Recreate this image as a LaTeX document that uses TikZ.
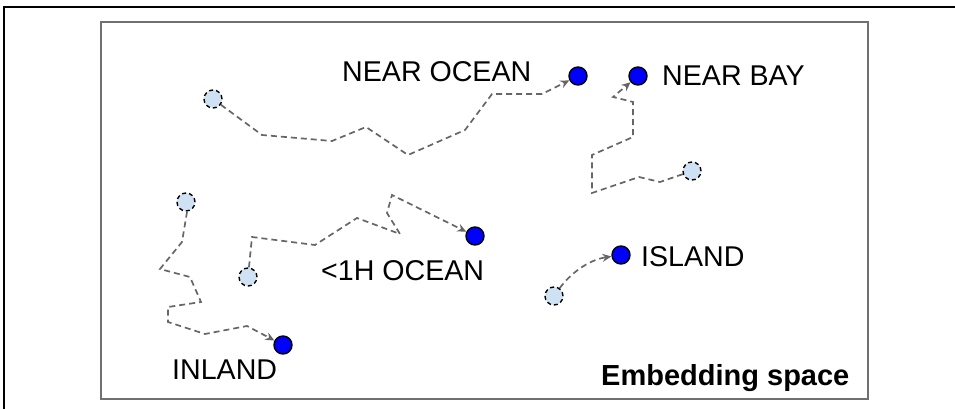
\documentclass[tikz,border=0pt]{standalone}
\usepackage{fontspec}
\setmainfont{Liberation Sans}
\usetikzlibrary{arrows.meta}
\definecolor{srcfill}{HTML}{CFE2F3}
\definecolor{conncol}{HTML}{666666}
\definecolor{framecol}{HTML}{707070}
\begin{document}
\begin{tikzpicture}[x=1pt,y=-1pt,
  tgt/.style={circle,draw=black,fill=blue,line width=1.4pt,minimum size=18pt,inner sep=0pt},
  src/.style={circle,draw=black,fill=srcfill,line width=1.4pt,dash pattern=on 4pt off 3pt,minimum size=18pt,inner sep=0pt},
  conn/.style={draw=conncol,line width=1.7pt,dash pattern=on 6pt off 4pt,-{Stealth[length=9pt,width=8pt]}},
  lbl/.style={anchor=base west,inner sep=0pt,font=\fontsize{28.6}{32}\selectfont},
  title/.style={anchor=base west,inner sep=0pt,font=\fontsize{29}{32}\selectfont\bfseries}]
\useasboundingbox (0,0) rectangle (955,409);
% outer frame (top and left lines)
\draw[black,line width=1.4pt] (4,409) -- (4,7) -- (955,7);
% inner frame
\draw[framecol,line width=1.8pt] (101,22) rectangle (868,399);
% target nodes
\node[tgt] (tno) at (578,76) {};
\node[tgt] (tnb) at (638,76) {};
\node[tgt] (tho) at (475,236) {};
\node[tgt] (tis) at (621,255) {};
\node[tgt] (tin) at (283,345) {};
% source nodes
\node[src] (sno) at (213,99) {};
\node[src] (snb) at (692,171) {};
\node[src] (sin) at (186,202) {};
\node[src] (sho) at (248,277) {};
\node[src] (sis) at (554,296) {};
% labels
\node[lbl] (lno) at (342,82) {NEAR OCEAN};
\node[lbl] (lnb) at (662,86) {NEAR BAY};
\node[lbl] (lho) at (321,280) {<1H OCEAN};
\node[lbl] (lis) at (641,266) {ISLAND};
\node[lbl] (lin) at (172,379) {INLAND};
\node[title] (ttl) at (601,385) {Embedding space};
% connectors
\draw[conn] (sno) -- (262,135) -- (332,141) -- (366,127) -- (408,155) -- (465,130) -- (492,94) -- (542,94) -- (tno);
\draw[conn] (snb) -- (660,182) -- (639,177) -- (592,193) -- (592,155) -- (633,137) -- (633,102) -- (613,97) -- (tnb);
\draw[conn] (sin) -- (187,212) -- (182,242) -- (160,269) -- (190,277) -- (201,302) -- (168,307) -- (168,322) -- (205,334) -- (247,326) -- (tin);
\draw[conn] (sho) -- (252,237) -- (315,245) -- (357,218) -- (400,234) -- (387,213) -- (392,195) -- (tho);
\draw[conn] (sis) .. controls (570,274) and (588,260) .. (tis);
\end{tikzpicture}
\end{document}
